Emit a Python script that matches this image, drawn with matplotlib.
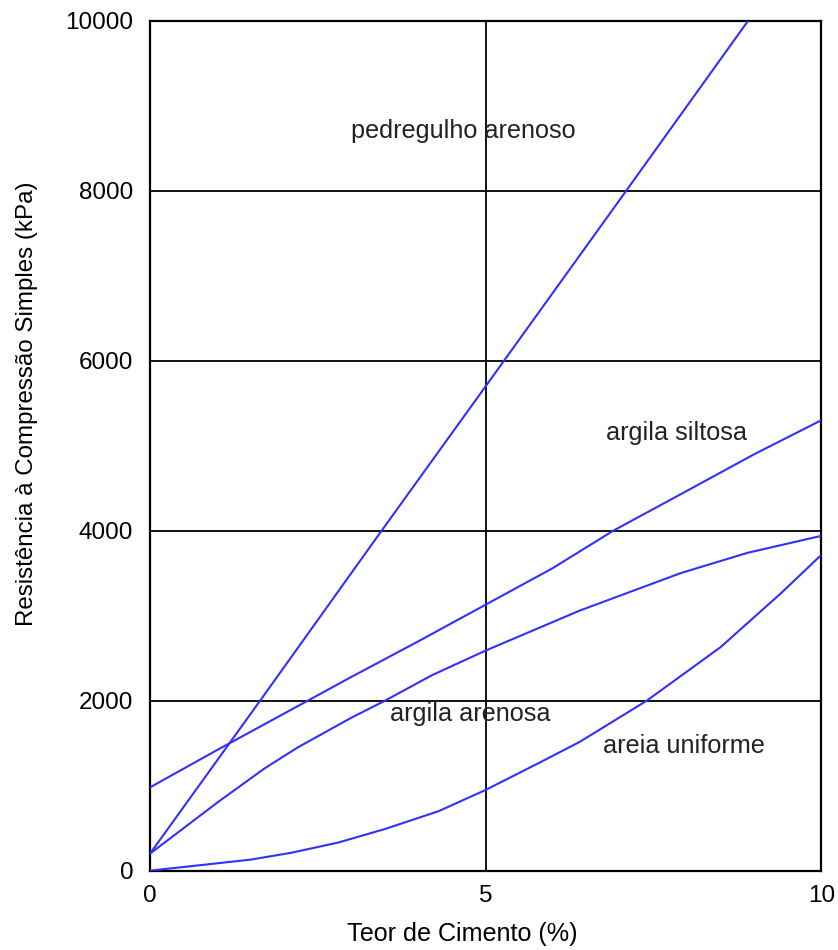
import matplotlib
matplotlib.use("Agg")
from matplotlib import pyplot as plt

# teor de cimento (%) e resistencia (kPa) de cada solo
x_pedregulho = [0, 1.64, 3.45, 5, 7.03, 9]
y_pedregulho = [200, 2000, 4000, 5700, 7930, 10100]

x_siltosa = [0, 1, 2, 3, 4, 5, 6, 6.9, 8, 9, 10]
y_siltosa = [980, 1420, 1850, 2280, 2700, 3130, 3560, 4000, 4470, 4900, 5300]

x_arenosa = [0, 1, 1.7, 2.2, 3, 3.5, 4.2, 5, 6.4, 7.9, 8.9, 10]
y_arenosa = [200, 800, 1200, 1450, 1800, 2000, 2300, 2590, 3060, 3500, 3740, 3940]

x_areia = [0, 1.5, 2.1, 2.8, 3.5, 4.3, 5, 5.8, 6.4, 7.4, 8.5, 9.4, 10]
y_areia = [0, 130, 210, 330, 490, 700, 950, 1270, 1515, 2000, 2630, 3265, 3715]

rotulos = ["pedregulho arenoso", "argila siltosa", "argila arenosa", "areia uniforme"]
pos_rotulos = [(3.0, 8700), (6.8, 5150), (3.57, 1840), (6.75, 1470)]

fonte = ["Liberation Sans", "DejaVu Sans"]

fig = plt.figure(figsize=(8.38, 9.5), dpi=100)
ax = fig.add_axes([0.179, 0.0835, 0.801, 0.8945])

for xs, ys in [(x_pedregulho, y_pedregulho), (x_siltosa, y_siltosa),
               (x_arenosa, y_arenosa), (x_areia, y_areia)]:
  ax.plot(xs, ys, color="#3030ff", linewidth=1.5, zorder=3)

for rotulo, (px, py) in zip(rotulos, pos_rotulos):
  ax.text(px, py, rotulo, family=fonte, fontsize=18.2, color="#222222",
          va="center", ha="left", zorder=4)

ax.set_xlim(0, 10)
ax.set_ylim(0, 10000)
ax.set_xticks([0, 5, 10])
ax.set_yticks(range(0, 10001, 2000))
ax.grid(True, color="black", linewidth=1.3)
ax.set_axisbelow(True)
ax.tick_params(length=0)
ax.tick_params(axis="x", pad=10)
ax.tick_params(axis="y", pad=12)
for lbl in ax.get_xticklabels() + ax.get_yticklabels():
  lbl.set_family(fonte)
  lbl.set_fontsize(17.5)
for sp in ax.spines.values():
  sp.set_linewidth(1.6)

ax.set_xlabel("Teor de Cimento (%)", family=fonte, fontsize=18.1)
ax.xaxis.set_label_coords(0.465, -0.06)
ax.set_ylabel("Resistência à Compressão Simples (kPa)", family=fonte, fontsize=17.4)
ax.yaxis.set_label_coords(-0.167, 0.55)

plt.savefig("out.png", dpi=100)
